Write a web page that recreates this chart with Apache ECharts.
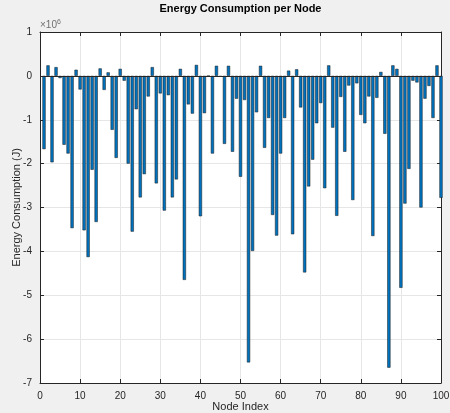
<!DOCTYPE html>
<html>
<head>
<meta charset="utf-8">
<script src="https://cdn.jsdelivr.net/npm/echarts@6/dist/echarts.min.js"></script>
<style>
  html, body { margin: 0; padding: 0; background: #f0f0f0; }
  #chart { width: 450px; height: 413px; }
</style>
</head>
<body>
<div id="chart"></div>
<script>
// Node indices 1..100
const nodeIndex = [
  1,2,3,4,5,6,7,8,9,10,11,12,13,14,15,16,17,18,19,20,
  21,22,23,24,25,26,27,28,29,30,31,32,33,34,35,36,37,38,39,40,
  41,42,43,44,45,46,47,48,49,50,51,52,53,54,55,56,57,58,59,60,
  61,62,63,64,65,66,67,68,69,70,71,72,73,74,75,76,77,78,79,80,
  81,82,83,84,85,86,87,88,89,90,91,92,93,94,95,96,97,98,99,100
];
// Energy consumption per node, in units of 10^6 J
const energyMillionJ = [
  -1.67, 0.24, -1.97, 0.20, -0.05, -1.57, -1.77, -3.47, 0.14, -0.31,
  -3.52, -4.13, -2.14, -3.33, 0.17, -0.32, 0.08, -1.23, -1.87, 0.16,
  -0.11, -2.00, -3.55, -0.76, -2.77, -2.24, -0.47, 0.20, -2.45, -0.40,
  -3.07, -0.44, -2.77, -2.36, 0.16, -4.65, -0.65, -0.86, 0.25, -3.20,
  -0.85, 0.00, -1.77, 0.23, -0.02, -1.55, 0.23, -1.73, -0.52, -2.30,
  -0.55, -6.53, -3.99, -0.83, 0.23, -1.64, -0.96, -3.17, -3.64, -1.77,
  -0.96, 0.12, -3.61, 0.15, -0.72, -4.48, -2.52, -1.91, -1.08, -0.62,
  -2.56, 0.24, -1.18, -3.19, -0.48, -1.73, -0.22, -2.83, -0.17, -0.89,
  -1.08, -0.47, -3.65, -0.50, 0.09, -1.32, -6.65, 0.24, 0.16, -4.83,
  -2.91, -2.12, -0.11, -0.15, -3.00, -0.52, -0.23, -0.96, 0.24, -2.78
];
const xTicks = [0, 10, 20, 30, 40, 50, 60, 70, 80, 90, 100];
const yTicks = [-7, -6, -5, -4, -3, -2, -1, 0, 1];

const chart = echarts.init(document.getElementById('chart'), null, { renderer: 'canvas' });
const FONT = 'Liberation Sans, Arial, Helvetica, sans-serif';
const axisColor = '#262626';
const gridColor = '#e6e6e6';

const barData = nodeIndex.map((n, i) => [n, energyMillionJ[i]]);

const baseX = {
  type: 'value', min: xTicks[0], max: xTicks[xTicks.length - 1], interval: 10,
  axisLine: { show: true, onZero: false, lineStyle: { color: axisColor, width: 1 } },
  axisTick: { show: true, inside: true, length: 4, lineStyle: { color: axisColor } },
  splitLine: { show: false }
};
const baseY = {
  type: 'value', min: yTicks[0], max: yTicks[yTicks.length - 1], interval: 1,
  axisLine: { show: true, onZero: false, lineStyle: { color: axisColor, width: 1 } },
  axisTick: { show: true, inside: true, length: 4, lineStyle: { color: axisColor } },
  splitLine: { show: false }
};

const option = {
  backgroundColor: '#f0f0f0',
  animation: false,
  grid: {
    left: 40, right: 9, top: 32, bottom: 30,
    outerBoundsMode: 'none', containLabel: false,
    show: true, backgroundColor: '#ffffff', borderWidth: 0
  },
  xAxis: [
    Object.assign({}, baseX, {
      position: 'bottom',
      axisLabel: { show: true, color: axisColor, fontFamily: FONT, fontSize: 10, margin: 8 },
      splitLine: { show: true, lineStyle: { color: gridColor, width: 1 } },
      name: 'Node Index', nameLocation: 'middle', nameGap: 18, nameMoveOverlap: false,
      nameTextStyle: { color: axisColor, fontFamily: FONT, fontSize: 11 }
    }),
    Object.assign({}, baseX, { position: 'top', axisLabel: { show: false } })
  ],
  yAxis: [
    Object.assign({}, baseY, {
      position: 'left',
      axisLabel: { show: true, color: axisColor, fontFamily: FONT, fontSize: 10, margin: 8 },
      splitLine: { show: true, lineStyle: { color: gridColor, width: 1 } },
      name: 'Energy Consumption (J)', nameLocation: 'middle', nameGap: 18, nameMoveOverlap: false,
      nameTextStyle: { color: axisColor, fontFamily: FONT, fontSize: 11 }
    }),
    Object.assign({}, baseY, { position: 'right', axisLabel: { show: false } })
  ],
  series: [{
    type: 'bar',
    xAxisIndex: 0, yAxisIndex: 0,
    data: barData,
    barWidth: 3.2,
    itemStyle: { color: '#0072BD', borderColor: '#1a1a1a', borderWidth: 0.5 },
    markLine: {
      silent: true, symbol: 'none', label: { show: false },
      lineStyle: { color: '#262626', width: 1, type: 'solid' },
      data: [{ yAxis: 0 }]
    }
  }],
  graphic: [
    {
      type: 'text', x: 240.5, y: 9,
      style: {
        text: 'Energy Consumption per Node', font: 'bold 11px ' + FONT, fill: '#000',
        textAlign: 'center', textVerticalAlign: 'middle'
      }
    },
    {
      type: 'text', x: 40, y: 19,
      style: {
        text: '×10{s|6}', font: '10px ' + FONT, fill: '#707070',
        rich: { s: { fontSize: 7, verticalAlign: 'top', fill: '#707070', padding: [0, 0, 6, 0] } }
      }
    }
  ]
};
chart.setOption(option);
</script>
</body>
</html>
